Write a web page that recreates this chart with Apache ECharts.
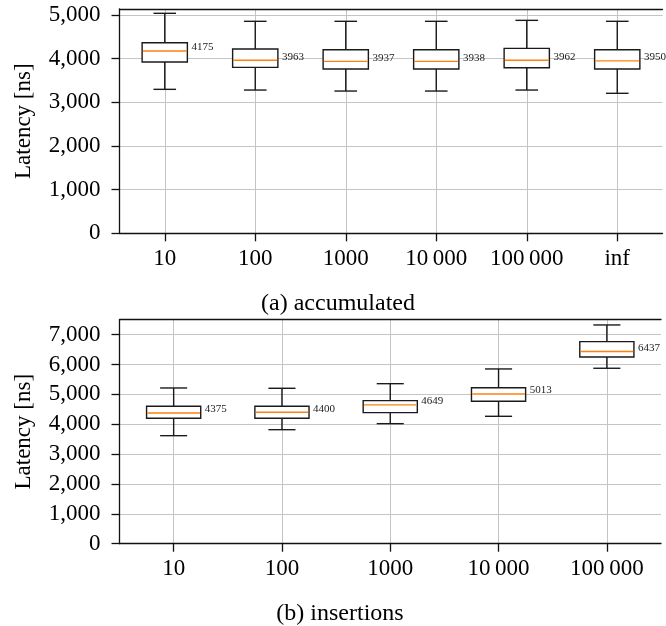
<!DOCTYPE html>
<html>
<head>
<meta charset="utf-8">
<script src="https://cdn.jsdelivr.net/npm/echarts@6/dist/echarts.min.js"></script>
<style>
html,body{margin:0;padding:0;background:#fff;}
#chart{width:666px;height:626px;}
</style>
</head>
<body>
<div id="chart"></div>
<script>
// ---- data: (a) accumulated ----
const categoriesA = ['10', '100', '1000', '10\u2009000', '100\u2009000', 'inf'];
const lowA    = [3297, 3281, 3258, 3258, 3281, 3206];
const q1A     = [3923, 3801, 3762, 3762, 3792, 3762];
const medianA = [4175, 3963, 3937, 3938, 3962, 3950];
const q3A     = [4365, 4220, 4204, 4204, 4236, 4204];
const highA   = [5038, 4855, 4855, 4855, 4877, 4855];

// ---- data: (b) insertions ----
const categoriesB = ['10', '100', '1000', '10\u2009000', '100\u2009000'];
const lowB    = [3617, 3818, 4019, 4266, 5874];
const q1B     = [4199, 4199, 4387, 4769, 6252];
const medianB = [4375, 4400, 4649, 5013, 6437];
const q3B     = [4601, 4601, 4789, 5224, 6765];
const highB   = [5214, 5204, 5358, 5851, 7324];

// y tick values
const yTicksA = [0, 1000, 2000, 3000, 4000, 5000];
const yTicksB = [0, 1000, 2000, 3000, 4000, 5000, 6000, 7000];
const captionA = '(a) accumulated';
const captionB = '(b) insertions';

function rows(cats, low, q1, med, q3, high) {
  return cats.map((c, i) => [i, low[i], q1[i], med[i], q3[i], high[i]]);
}

const FONT = 'Liberation Serif';
const AXIS_COLOR = '#111';
const BOX_COLOR = '#1a1a1a';
const GRID_COLOR = '#c4c4c4';
const MEDIAN_COLOR = '#ff7f0e';

function renderBox(params, api) {
  const i = api.value(0);
  const low = api.coord([i, api.value(1)]);
  const q1 = api.coord([i, api.value(2)]);
  const med = api.coord([i, api.value(3)]);
  const q3 = api.coord([i, api.value(4)]);
  const high = api.coord([i, api.value(5)]);
  const band = api.size([1, 0])[0];
  const bw = band * 0.5, cw = band * 0.25;
  const cx = low[0];
  const ls = { stroke: BOX_COLOR, lineWidth: 1.4 };
  return {
    type: 'group',
    children: [
      { type: 'line', shape: { x1: cx, y1: low[1], x2: cx, y2: q1[1] }, style: ls },
      { type: 'line', shape: { x1: cx, y1: q3[1], x2: cx, y2: high[1] }, style: ls },
      { type: 'line', shape: { x1: cx - cw / 2, y1: low[1], x2: cx + cw / 2, y2: low[1] }, style: ls },
      { type: 'line', shape: { x1: cx - cw / 2, y1: high[1], x2: cx + cw / 2, y2: high[1] }, style: ls },
      { type: 'rect', shape: { x: cx - bw / 2, y: q3[1], width: bw, height: q1[1] - q3[1] },
        style: { fill: '#fff', stroke: BOX_COLOR, lineWidth: 1.4 } },
      { type: 'line', shape: { x1: cx - bw / 2 + 0.7, y1: med[1], x2: cx + bw / 2 - 0.7, y2: med[1] },
        style: { stroke: MEDIAN_COLOR, lineWidth: 1.4 } },
      { type: 'text', x: cx + bw / 2 + 4, y: med[1] - 3.5,
        style: { text: String(api.value(3)), align: 'left', verticalAlign: 'middle',
                 font: '11px "' + FONT + '"', fill: '#222' } }
    ]
  };
}

function yAxisFor(gridIndex, max, ticks) {
  return {
    type: 'value', gridIndex: gridIndex, min: 0, max: max, interval: 1000,
    name: 'Latency [ns]', nameLocation: 'middle', nameGap: 84,
    nameTextStyle: { fontFamily: FONT, fontSize: 23, color: '#000' },
    axisLine: { show: true, lineStyle: { color: AXIS_COLOR, width: 1.3 } },
    axisTick: { show: true, length: 8, customValues: ticks, lineStyle: { color: AXIS_COLOR, width: 1.3 } },
    axisLabel: { customValues: ticks, margin: 19, fontFamily: FONT, fontSize: 23, color: '#000',
                 formatter: v => Number(v).toLocaleString('en-US') },
    splitLine: { show: true, lineStyle: { color: GRID_COLOR, width: 1 } }
  };
}

function xAxisFor(gridIndex, cats) {
  return {
    type: 'category', gridIndex: gridIndex, data: cats, position: 'bottom',
    axisLine: { show: true, lineStyle: { color: AXIS_COLOR, width: 1.3 } },
    axisTick: { show: true, alignWithLabel: true, interval: 0, length: 8, lineStyle: { color: AXIS_COLOR, width: 1.3 } },
    axisLabel: { interval: 0, hideOverlap: false, margin: 14, fontFamily: FONT, fontSize: 23, color: '#000' },
    splitLine: { show: true, interval: 0, alignWithLabel: true, lineStyle: { color: GRID_COLOR, width: 1 } }
  };
}

function topAxisFor(gridIndex, cats) {
  return {
    type: 'category', gridIndex: gridIndex, data: cats, position: 'top',
    axisLine: { show: true, lineStyle: { color: AXIS_COLOR, width: 1.3 } },
    axisTick: { show: false }, axisLabel: { show: false }, splitLine: { show: false }
  };
}

const chart = echarts.init(document.getElementById('chart'), null, { renderer: 'canvas' });
chart.setOption({
  animation: false,
  backgroundColor: '#fff',
  title: [
    { text: captionA, left: 333, top: 287, textAlign: 'center',
      textStyle: { fontFamily: FONT, fontSize: 24, fontWeight: 'normal', color: '#000' } },
    { text: captionB, left: 335, top: 597, textAlign: 'center',
      textStyle: { fontFamily: FONT, fontSize: 24, fontWeight: 'normal', color: '#000' } }
  ],
  grid: [
    { left: 119.5, top: 9, width: 543, height: 224.3 },
    { left: 119.5, top: 319.7, width: 541.5, height: 224 }
  ],
  xAxis: [
    xAxisFor(0, categoriesA), topAxisFor(0, categoriesA),
    xAxisFor(1, categoriesB), topAxisFor(1, categoriesB)
  ],
  yAxis: [
    yAxisFor(0, 5137, yTicksA),
    yAxisFor(1, 7500, yTicksB)
  ],
  series: [
    { type: 'custom', xAxisIndex: 0, yAxisIndex: 0, renderItem: renderBox,
      encode: { x: 0, y: [1, 2, 3, 4, 5] },
      data: rows(categoriesA, lowA, q1A, medianA, q3A, highA) },
    { type: 'custom', xAxisIndex: 2, yAxisIndex: 1, renderItem: renderBox,
      encode: { x: 0, y: [1, 2, 3, 4, 5] },
      data: rows(categoriesB, lowB, q1B, medianB, q3B, highB) }
  ]
});
</script>
</body>
</html>
